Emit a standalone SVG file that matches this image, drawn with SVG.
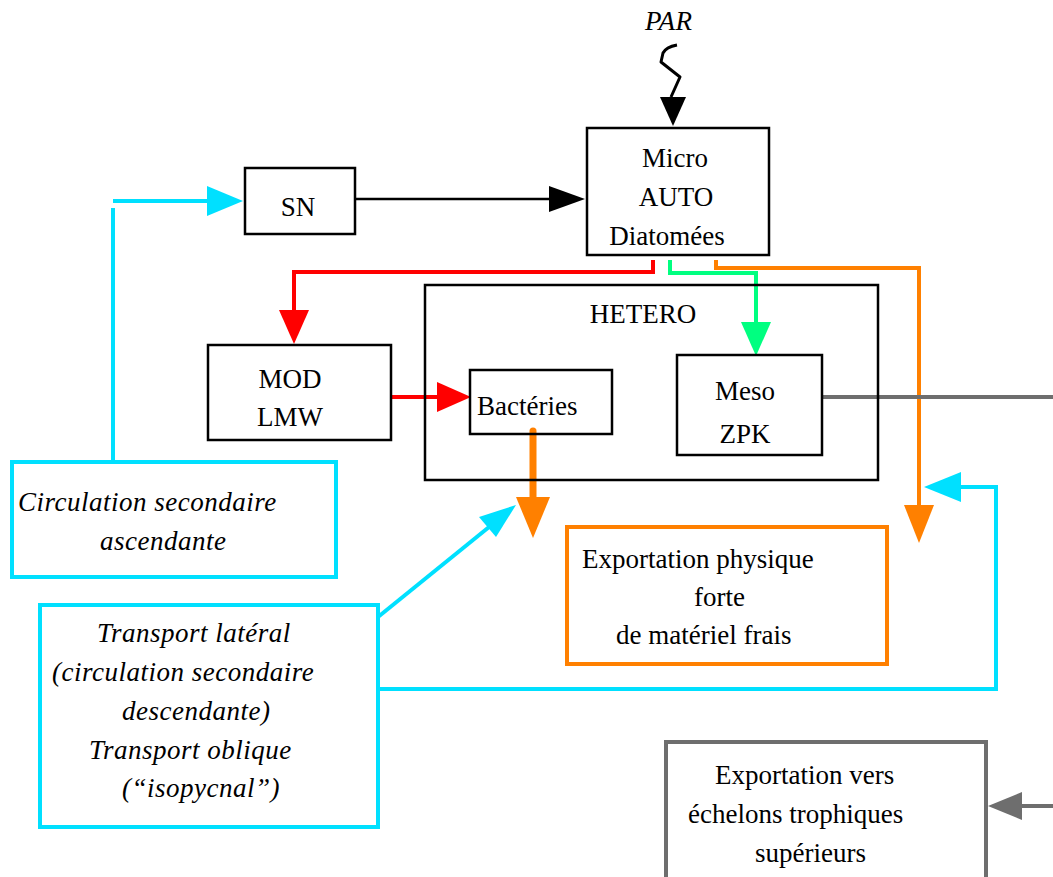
<svg xmlns="http://www.w3.org/2000/svg" width="1053" height="877" viewBox="0 0 1053 877">
<style>
.t{font-family:"Liberation Serif","Times New Roman",serif;font-size:27px;fill:#000}
.i{font-style:italic;letter-spacing:0.5px}
.box{fill:none;stroke:#000;stroke-width:2.5}
.cy{fill:none;stroke:#00e0ff;stroke-width:4}
.or{fill:none;stroke:#ff8000;stroke-width:4}
.gr{fill:none;stroke:#6e6e6e;stroke-width:4}
</style>
<rect width="1053" height="877" fill="#fff"/>
<g id="connectors">
  <path d="M677,45 Q666,47 663,53 L661,62 L680,77 L671,97" fill="none" stroke="#000" stroke-width="3" stroke-linejoin="round"/>
  <polygon points="660,97 686,97 673,126" fill="#000"/>
  <line x1="355" y1="199" x2="552" y2="199" stroke="#000" stroke-width="2.5"/>
  <polygon points="549,186 549,212 585,199" fill="#000"/>
  <line x1="113" y1="201" x2="210" y2="201" class="cy"/>
  <line x1="113" y1="208" x2="113" y2="462" class="cy"/>
  <polygon points="207,186 207,216 243,201" fill="#00e0ff"/>
  <polyline points="653,260 653,272 294,272 294,312" fill="none" stroke="#ff0000" stroke-width="4"/>
  <polygon points="279,310 309,310 294,344" fill="#ff0000"/>
  <polyline points="670,260 670,273 756,273 756,324" fill="none" stroke="#00ff80" stroke-width="4"/>
  <polygon points="741,322 771,322 756,356" fill="#00ff80"/>
  <polyline points="716,260 716,268 919,268 919,507" class="or"/>
  <polygon points="904,505 934,505 919,543" fill="#ff8000"/>
  <line x1="391" y1="397" x2="440" y2="397" stroke="#ff0000" stroke-width="4"/>
  <polygon points="437,382 437,412 471,397" fill="#ff0000"/>
  <line x1="533" y1="431" x2="533" y2="500" stroke="#ff8000" stroke-width="7" stroke-linecap="round"/>
  <polygon points="516,497 550,497 533,538" fill="#ff8000"/>
  <line x1="378" y1="617" x2="494" y2="523" class="cy"/>
  <polygon points="516,505 479,517 496,537" fill="#00e0ff"/>
  <polyline points="378,689 996,689 996,487 958,487" class="cy"/>
  <polygon points="961,472 961,502 924,487" fill="#00e0ff"/>
  <line x1="822" y1="397" x2="1053" y2="397" class="gr"/>
  <line x1="1053" y1="806" x2="1018" y2="806" class="gr"/>
  <polygon points="1022,792 1022,820 988,806" fill="#6e6e6e"/>
</g>
<g id="par"><text class="t i" x="645" y="30" letter-spacing="0">PAR</text></g>
<g id="micro">
  <rect class="box" x="587" y="128" width="182" height="127"/>
  <text class="t" x="675" y="167" text-anchor="middle">Micro</text>
  <text class="t" x="676" y="206" text-anchor="middle">AUTO</text>
  <text class="t" x="667" y="245" text-anchor="middle">Diatomées</text>
</g>
<g id="sn">
  <rect class="box" x="245" y="168" width="110" height="66"/>
  <text class="t" x="298" y="216" text-anchor="middle">SN</text>
</g>
<g id="hetero">
  <rect class="box" x="425" y="285" width="453" height="195"/>
  <text class="t" x="643" y="323" text-anchor="middle">HETERO</text>
</g>
<g id="mod">
  <rect class="box" x="208" y="345" width="183" height="95"/>
  <text class="t" x="290" y="388" text-anchor="middle">MOD</text>
  <text class="t" x="290" y="426" text-anchor="middle">LMW</text>
</g>
<g id="bacteries">
  <rect class="box" x="470" y="370" width="142" height="64"/>
  <text class="t" x="477" y="415">Bactéries</text>
</g>
<g id="meso">
  <rect class="box" x="677" y="355" width="145" height="100"/>
  <text class="t" x="745" y="400" text-anchor="middle">Meso</text>
  <text class="t" x="745" y="443" text-anchor="middle">ZPK</text>
</g>
<g id="circulation">
  <rect class="cy" x="12" y="462" width="324" height="115"/>
  <text class="t i" x="18" y="511">Circulation secondaire</text>
  <text class="t i" x="100" y="550">ascendante</text>
</g>
<g id="transport">
  <rect class="cy" x="40" y="605" width="338" height="222"/>
  <text class="t i" x="97" y="642">Transport latéral</text>
  <text class="t i" x="52" y="681">(circulation secondaire</text>
  <text class="t i" x="122" y="720">descendante)</text>
  <text class="t i" x="89" y="759">Transport oblique</text>
  <text class="t i" x="122" y="797">(“isopycnal”)</text>
</g>
<g id="export-physique">
  <rect class="or" x="567" y="527" width="320" height="137"/>
  <text class="t" x="582" y="568">Exportation physique</text>
  <text class="t" x="694" y="606">forte</text>
  <text class="t" x="616" y="644">de matériel frais</text>
</g>
<g id="export-vers">
  <rect class="gr" x="666" y="742" width="320" height="145"/>
  <text class="t" x="715" y="784">Exportation vers</text>
  <text class="t" x="688" y="823">échelons trophiques</text>
  <text class="t" x="755" y="862">supérieurs</text>
</g>
</svg>
